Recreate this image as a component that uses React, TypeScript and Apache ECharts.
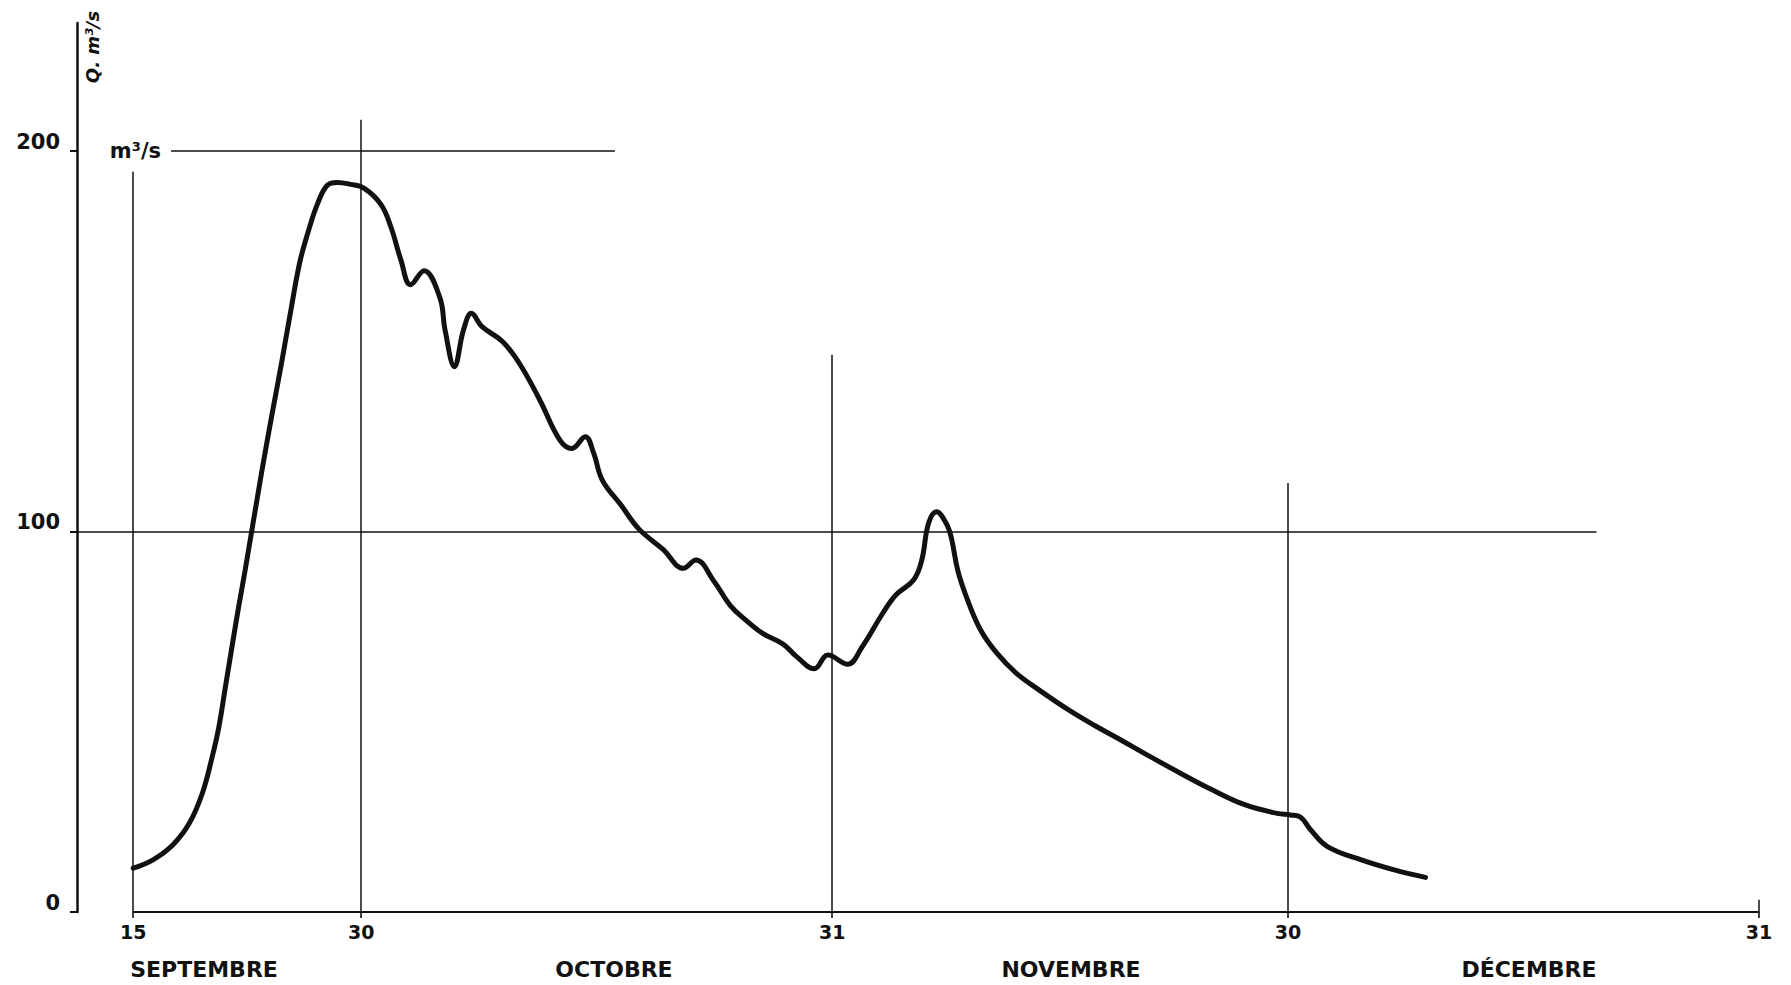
import React, { useEffect, useRef } from "react";
import * as echarts from "echarts";

// Day index counted from 15 September (0) to 31 December (107)
const days = [
  0, 1.3, 2.6, 3.69, 4.55, 5.2, 5.64, 6.07, 6.5, 6.94, 7.37, 8.45, 9.1, 9.75, 10.3, 10.95, 11.49, 12.14,
  12.79, 13.44, 14.3, 15.18, 16.29, 16.96, 17.62, 18.25, 19.14, 20.19, 20.52, 21.14, 21.74, 22.26, 22.96, 24.3,
  25.41, 26.75, 28.08, 28.87, 29.75, 30.31, 30.87, 32.09, 33.29, 34.87, 36.21, 37.03, 38.21, 39.3, 40.32, 41.43,
  42.77, 43.66, 44.82, 45.72, 47.02, 47.98, 49.33, 50.19, 51.37, 51.9, 52.34, 52.87, 53.51, 53.84, 54.27, 54.91,
  55.77, 56.84, 58.13, 59.63, 61.56, 63.28, 65.0, 66.72, 68.86, 71.01, 73.15, 75.29, 76.16, 76.83, 77.49, 78.6,
  80.83, 83.05, 85.05,
];
// Discharge Q in m3/s
const flow = [
  11.5, 13.7, 17.6, 23.3, 31.2, 40.8, 48.7, 59.2, 69.7, 80.2, 89.9, 115.5, 130, 144, 156.4, 170.5, 178.4, 186.2,
  191, 191.7, 191.2, 190.2, 186, 180, 171.3, 164.8, 168.5, 161.3, 153, 143.3, 153, 157.3, 153.8, 149.9,
  144.2, 134.6, 124, 121.8, 124.9, 120.5, 113.5, 107, 100.6, 95.3, 90.3, 92.5, 87, 80.5, 76.7, 73.2,
  70.4, 67.1, 63.9, 67.5, 65.1, 69.7, 78.5, 83.3, 87.3, 92.5, 102.1, 105.2, 102.1, 98.4, 89.7, 82,
  74.1, 68, 62.7, 58.3, 53.1, 49.0, 45.2, 41.3, 36.6, 32.1, 28.2, 25.9, 25.5, 24.9, 21.6, 17.2,
  13.7, 11.0, 9.1,
];

const tickDays = [0, 15, 46, 76, 107];
const tickLabels = ["15", "30", "31", "30", "31"];
const gridTops = [194.5, 208.2, 146.4, 112.7, 3.2];

const monthCenters = [4.66, 31.64, 61.72, 91.86];
const monthNames = ["SEPTEMBRE", "OCTOBRE", "NOVEMBRE", "DÉCEMBRE"];

const yTicks = [0, 100, 200];

// horizontal reference lines: [fromDay, toDay, value]
const hLines = [
  [-3.7, 96.3, 100],
  [2.49, 31.7, 200],
];

const X_MIN = -3.7;
const X_MAX = 107;
const Y_MAX = 233.6;

const INK = "#111111";
const FONT = "DejaVu Sans";

function nearestLabel(v: number, pos: number[], names: string[]) {
  let best = 0;
  for (let i = 1; i < pos.length; i++) {
    if (Math.abs(pos[i] - v) < Math.abs(pos[best] - v)) best = i;
  }
  return names[best];
}

export default function App() {
  const ref = useRef<HTMLDivElement>(null);

  useEffect(() => {
    if (!ref.current) return;
    const chart = echarts.init(ref.current, undefined, { renderer: "svg" });

    const lineData: any[] = [];
    // x axis line
    lineData.push([{ coord: [0, 0], lineStyle: { width: 2.2 } }, { coord: [X_MAX, 0] }]);
    // vertical guide lines
    tickDays.forEach((d, i) => {
      lineData.push([{ coord: [d, 0] }, { coord: [d, gridTops[i]] }]);
    });
    // horizontal guide lines
    hLines.forEach((h) => {
      const first: any = { coord: [h[0], h[2]] };
      if (h[2] === 200) {
        first.label = {
          show: true,
          position: "start",
          formatter: "m³/s",
          distance: 10,
          color: INK,
          fontFamily: FONT,
          fontWeight: "bold",
          fontSize: 21,
        };
      }
      lineData.push([first, { coord: [h[1], h[2]] }]);
    });

    const option: any = {
      animation: false,
      backgroundColor: "#ffffff",
      grid: { left: 77, right: 32, top: 23, bottom: 73, containLabel: false },
      xAxis: [
        {
          type: "value",
          min: X_MIN,
          max: X_MAX,
          position: "bottom",
          axisLine: { show: false, onZero: false },
          splitLine: { show: false },
          axisTick: {
            show: true,
            customValues: tickDays,
            length: 6,
            lineStyle: { color: INK, width: 1.6 },
          },
          axisLabel: {
            show: true,
            customValues: tickDays,
            margin: 10,
            color: INK,
            fontFamily: FONT,
            fontWeight: "bold",
            fontSize: 19,
            formatter: (v: number) => nearestLabel(v, tickDays, tickLabels),
          },
        },
        {
          type: "value",
          min: X_MIN,
          max: X_MAX,
          position: "bottom",
          axisLine: { show: false, onZero: false },
          splitLine: { show: false },
          axisTick: { show: false },
          axisLabel: {
            show: true,
            customValues: monthCenters,
            margin: 46,
            color: INK,
            fontFamily: FONT,
            fontWeight: "bold",
            fontSize: 22,
            formatter: (v: number) => nearestLabel(v, monthCenters, monthNames),
          },
        },
      ],
      yAxis: {
        type: "value",
        min: 0,
        max: Y_MAX,
        axisLine: { show: true, onZero: false, lineStyle: { color: INK, width: 2.5 } },
        splitLine: { show: false },
        axisTick: {
          show: true,
          customValues: yTicks,
          length: 7,
          lineStyle: { color: INK, width: 2 },
        },
        axisLabel: {
          show: true,
          customValues: yTicks,
          margin: 17,
          color: INK,
          fontFamily: FONT,
          fontWeight: "bold",
          fontSize: 21,
          verticalAlign: "bottom",
          lineHeight: 18,
          formatter: (v: number) => String(v),
        },
      },
      graphic: [
        {
          type: "text",
          x: 92,
          y: 47,
          rotation: Math.PI / 2,
          style: {
            text: "Q. m³/s",
            fill: INK,
            font: `italic bold 18px "${FONT}"`,
            align: "center",
            verticalAlign: "middle",
          },
        },
      ],
      series: [
        {
          type: "line",
          xAxisIndex: 0,
          yAxisIndex: 0,
          data: days.map((d, i) => [d, flow[i]]),
          smooth: 0.4,
          showSymbol: false,
          symbol: "none",
          clip: false,
          lineStyle: { color: INK, width: 5, cap: "round", join: "round" },
          markLine: {
            silent: true,
            symbol: ["none", "none"],
            label: { show: false },
            lineStyle: { color: INK, width: 1.5, type: "solid" },
            emphasis: { disabled: true },
            data: lineData,
          },
        },
      ],
    };

    chart.setOption(option);
    return () => chart.dispose();
  }, []);

  return (
    <div
      ref={ref}
      style={{ position: "fixed", left: 0, top: 0, width: 1791, height: 985, background: "#fff" }}
    />
  );
}
